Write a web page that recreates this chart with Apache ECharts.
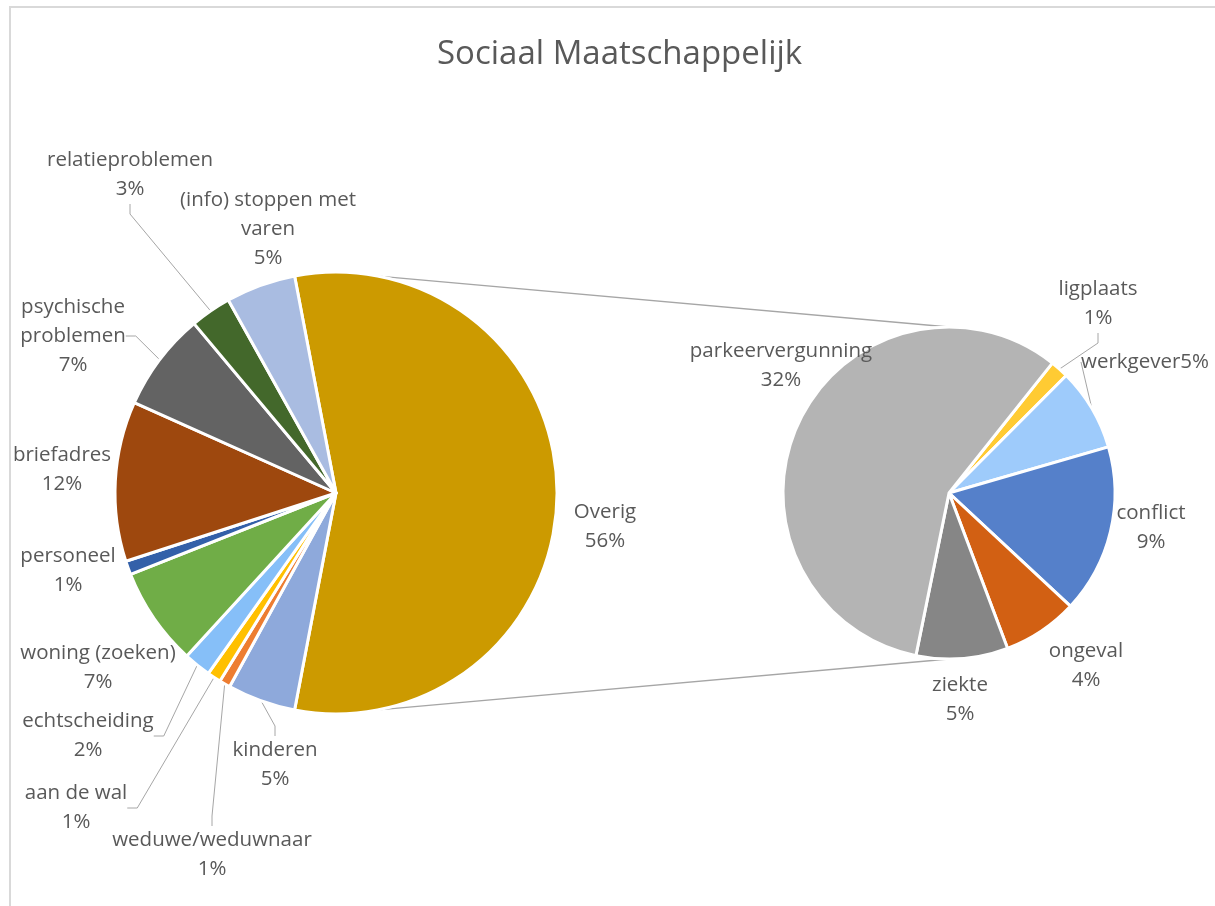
<!DOCTYPE html>
<html><head><meta charset="utf-8">
<script src="https://cdn.jsdelivr.net/npm/echarts@6/dist/echarts.min.js"></script>
<style>html,body{margin:0;padding:0;background:#fff}#c{width:1215px;height:906px}</style>
</head><body><div id="c"></div>
<script>
// ---- data ----
const chartTitle = 'Sociaal Maatschappelijk';
const mainNames = ['Overig', 'kinderen', 'weduwe/weduwnaar', 'aan de wal', 'echtscheiding', 'woning (zoeken)', 'personeel', 'briefadres', 'psychische problemen', 'relatieproblemen', '(info) stoppen met varen'];
const mainValues = [56.0, 5.0, 0.8, 1.0, 2.0, 7.2, 1.0, 11.7, 7.2, 3.0, 5.1];
const subNames = ['ligplaats', 'werkgever', 'conflict', 'ongeval', 'ziekte', 'parkeervergunning'];
const subValues = [1.0, 4.5, 9.2, 4.1, 5.0, 32.2];

// ---- styles ----
const mainColors = ['#CC9A00', '#8EA9DB', '#ED7D31', '#FFC000', '#86BFF8', '#70AD47', '#3360A9', '#9E480E', '#636363', '#43682B', '#A9BCE1'];
const subColors = ['#FFCB33', '#9ECBFB', '#5580CA', '#D26013', '#868686', '#B4B4B4'];
const wrapText = {'psychische problemen': 'psychische\nproblemen', '(info) stoppen met varen': '(info) stoppen met\nvaren'};
const sameLine = {'werkgever': true};
const withLine = {'relatieproblemen': 1, 'psychische problemen': 1, 'echtscheiding': 1, 'aan de wal': 1, 'weduwe/weduwnaar': 1, 'kinderen': 1, 'ligplaats': 1, 'werkgever': 1};
const labelPos = {
  'Overig': [605, 527], 'kinderen': [275, 765], 'weduwe/weduwnaar': [212, 855], 'aan de wal': [76, 808],
  'echtscheiding': [88, 736], 'woning (zoeken)': [98, 668], 'personeel': [68, 571], 'briefadres': [62, 470],
  'psychische problemen': [73, 336], 'relatieproblemen': [130, 175], '(info) stoppen met varen': [268, 229],
  'ligplaats': [1098, 304], 'werkgever': [1145, 362], 'conflict': [1151, 528], 'ongeval': [1086, 666],
  'ziekte': [960, 700], 'parkeervergunning': [781, 366]
};
const mainCenter = [336, 493], mainR = 221;
const subCenter = [949, 493], subR = 166;
const subStart = 51.5;
const PAD = 2000; // enlarge the series box so ECharts never truncates labels
const FONT = '"Open Sans", sans-serif';
const TXT = '#595959';

const total = mainValues.reduce((a, b) => a + b, 0);
const overigShare = mainValues[0] / total;
const mainStart = overigShare * 360 / 2;

function fmt(p) {
  const nm = wrapText[p.name] || p.name;
  return nm + (sameLine[p.name] ? '' : '\n') + Math.round(p.value / total * 100 + 1e-9) + '%';
}
function mkData(names, values, colors) {
  return names.map((n, i) => ({
    name: n, value: values[i],
    itemStyle: {color: colors[i]},
    labelLine: {show: !!withLine[n]}
  }));
}
function layoutFn(names) {
  return function (params) {
    const p = labelPos[names[params.dataIndex]];
    return {x: p[0], y: p[1], align: 'center', verticalAlign: 'middle'};
  };
}

// connector lines derived from the pie geometry
const a = 79 * Math.PI / 180;
const topMain = [mainCenter[0] + mainR * Math.cos(a), mainCenter[1] - mainR * Math.sin(a)];
const botMain = [mainCenter[0] + mainR * Math.cos(a), mainCenter[1] + mainR * Math.sin(a)];
const topSub = [subCenter[0], subCenter[1] - subR];
const botSub = [subCenter[0], subCenter[1] + subR];

const commonSeries = {
  type: 'pie', clockwise: true, animation: false, silent: true,
  left: -PAD, top: -PAD, right: -PAD, bottom: -PAD,
  itemStyle: {borderColor: '#fff', borderWidth: 3},
  label: {show: true, position: 'outside', formatter: fmt, fontFamily: FONT, fontSize: 20.5, color: TXT, lineHeight: 29, align: 'center'},
  labelLine: {show: true, length: 10, length2: 10, lineStyle: {color: '#A6A6A6', width: 1}},
  emphasis: {disabled: true}
};

const chart = echarts.init(document.getElementById('c'), null, {renderer: 'canvas'});
chart.setOption({
  backgroundColor: '#fff',
  title: {text: chartTitle, left: 432, top: 33, textStyle: {fontFamily: FONT, fontSize: 33, fontWeight: 'normal', color: TXT}},
  graphic: [
    {type: 'rect', shape: {x: 10, y: 7, width: 1230, height: 930}, style: {fill: 'none', stroke: '#D9D9D9', lineWidth: 2}, silent: true},
    {type: 'line', shape: {x1: topMain[0], y1: topMain[1], x2: topSub[0], y2: topSub[1]}, style: {stroke: '#A6A6A6', lineWidth: 1.3}, silent: true},
    {type: 'line', shape: {x1: botMain[0], y1: botMain[1], x2: botSub[0], y2: botSub[1]}, style: {stroke: '#A6A6A6', lineWidth: 1.3}, silent: true}
  ],
  series: [
    Object.assign({}, commonSeries, {
      name: 'main', center: [mainCenter[0] + PAD, mainCenter[1] + PAD], radius: mainR, startAngle: mainStart,
      data: mkData(mainNames, mainValues, mainColors),
      labelLayout: layoutFn(mainNames)
    }),
    Object.assign({}, commonSeries, {
      name: 'sub', center: [subCenter[0] + PAD, subCenter[1] + PAD], radius: subR, startAngle: subStart,
      data: mkData(subNames, subValues, subColors),
      labelLayout: layoutFn(subNames)
    })
  ]
});
</script>
</body></html>
